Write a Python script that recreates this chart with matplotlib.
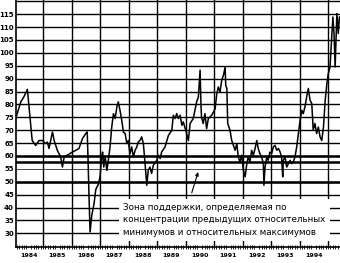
import numpy as np
import matplotlib
matplotlib.use("Agg")
import matplotlib.pyplot as plt
from matplotlib.ticker import MultipleLocator

# price series (decimal year, value)
dates = [
    1984.04, 1984.22, 1984.33, 1984.45, 1984.54, 1984.59, 1984.62, 1984.74, 1984.86, 1984.98,
    1985.09, 1985.15, 1985.21, 1985.33, 1985.39, 1985.50, 1985.62, 1985.68, 1985.74, 1985.85,
    1986.03, 1986.15, 1986.26, 1986.38, 1986.50, 1986.55, 1986.58, 1986.61, 1986.65, 1986.71,
    1986.79, 1986.85, 1986.94, 1987.00, 1987.06, 1987.09, 1987.13, 1987.18, 1987.24, 1987.29,
    1987.35, 1987.41, 1987.47, 1987.53, 1987.59, 1987.64, 1987.70, 1987.76, 1987.82, 1987.88,
    1987.94, 1987.99, 1988.05, 1988.11, 1988.17, 1988.23, 1988.29, 1988.34, 1988.40, 1988.46,
    1988.52, 1988.58, 1988.64, 1988.69, 1988.75, 1988.81, 1988.87, 1988.99, 1989.04, 1989.11,
    1989.16, 1989.28, 1989.40, 1989.52, 1989.57, 1989.63, 1989.69, 1989.75, 1989.81, 1989.87,
    1989.92, 1990.04, 1990.10, 1990.16, 1990.27, 1990.33, 1990.39, 1990.45, 1990.51, 1990.54,
    1990.56, 1990.62, 1990.68, 1990.74, 1990.80, 1990.92, 1990.98, 1991.04, 1991.09, 1991.15,
    1991.21, 1991.27, 1991.33, 1991.39, 1991.41, 1991.45, 1991.48, 1991.56, 1991.62, 1991.68,
    1991.74, 1991.80, 1991.85, 1991.91, 1991.97, 1992.03, 1992.09, 1992.15, 1992.20, 1992.26,
    1992.32, 1992.38, 1992.44, 1992.50, 1992.55, 1992.61, 1992.67, 1992.73, 1992.75, 1992.79,
    1992.85, 1992.90, 1992.96, 1993.02, 1993.08, 1993.14, 1993.20, 1993.26, 1993.32, 1993.37,
    1993.41, 1993.43, 1993.49, 1993.55, 1993.61, 1993.67, 1993.72, 1993.78, 1993.84, 1993.90,
    1993.96, 1994.02, 1994.08, 1994.13, 1994.19, 1994.25, 1994.31, 1994.37, 1994.43, 1994.48,
    1994.54, 1994.60, 1994.66, 1994.72, 1994.78, 1994.84, 1994.90, 1994.96, 1995.01, 1995.07,
    1995.11, 1995.17, 1995.21, 1995.25, 1995.28, 1995.31, 1995.36, 1995.40,
]
prices = [
    74.5, 81.0, 83.0, 85.8, 75.0, 69.3, 66.0, 64.1, 66.0, 66.0,
    64.8, 65.4, 62.9, 69.3, 66.0, 62.2, 59.6, 55.7, 59.6, 60.3,
    61.5, 62.2, 62.9, 66.7, 68.7, 69.3, 58.3, 45.5, 30.5, 37.0,
    41.5, 47.0, 49.0, 52.0, 60.0, 61.5, 55.7, 59.6, 54.4, 58.3,
    63.5, 71.2, 76.4, 74.5, 79.0, 81.0, 77.7, 73.9, 69.3, 68.7,
    64.8, 66.0, 60.9, 63.5, 59.6, 62.2, 63.5, 65.4, 66.0, 67.4,
    64.8, 57.0, 48.6, 54.4, 55.7, 53.2, 56.4, 58.3, 60.3, 59.0,
    61.5, 63.5, 68.0, 70.0, 75.8, 74.5, 76.4, 74.5, 75.8, 71.9,
    73.2, 68.7, 66.0, 72.6, 74.5, 77.7, 81.0, 82.9, 93.3, 80.3,
    75.1, 72.6, 76.4, 70.6, 74.5, 75.8, 77.0, 78.4, 83.6, 86.8,
    84.8, 89.4, 91.3, 94.5, 87.4, 86.2, 72.6, 70.0, 66.0, 64.1,
    62.2, 64.8, 59.6, 57.7, 60.3, 54.4, 51.9, 57.0, 59.6, 57.7,
    62.2, 60.3, 62.9, 66.0, 62.9, 60.9, 59.6, 57.0, 48.6, 55.7,
    59.6, 58.3, 61.5, 60.9, 63.5, 64.1, 62.2, 62.9, 61.5, 59.6,
    51.9, 58.3, 59.6, 55.7, 57.0, 58.3, 57.0, 57.7, 59.6, 63.5,
    68.7, 73.9, 77.7, 76.4, 79.0, 82.9, 86.2, 81.6, 80.3, 70.0,
    72.6, 68.7, 71.2, 67.4, 66.0, 71.2, 81.6, 88.1, 92.0, 94.5,
    102.3, 113.9, 107.5, 94.5, 104.9, 115.3, 107.5, 113.9,
]

years = list(range(1984, 1995))
year_lines = list(range(1985, 1996))
grid_levels = list(range(30, 125, 5))
support_levels = [60, 57.7, 50]
note = ("Зона поддержки, определяемая по\n"
        "концентрации предыдущих относительных\n"
        "минимумов и относительных максимумов")

fig = plt.figure(figsize=(3.4, 2.63), dpi=100)
ax = fig.add_axes([0.047, 0.061, 0.953, 0.939])

for lev in grid_levels:
    lw = 0.5 if lev == 55 else 1.0
    ax.axhline(lev, color="black", lw=lw, zorder=1)
for yr in year_lines:
    ax.axvline(yr, color="black", lw=1.0, zorder=1)
for lev in support_levels:
    ax.axhline(lev, color="black", lw=1.8, zorder=1)

ax.plot(dates, prices, color="black", lw=1.1, zorder=3)

ax.set_xlim(1984.05, 1995.42)
ax.set_ylim(24.7, 120.5)

ax.set_yticks(list(range(30, 120, 5)))
ax.tick_params(axis="y", length=0, labelsize=5, pad=1.5)
for t in ax.get_yticklabels():
    t.set_fontweight("bold")

ax.set_xticks([y + 0.5 for y in years])
ax.set_xticklabels([str(y) for y in years], fontsize=4.5, fontweight="bold")
ax.xaxis.set_minor_locator(MultipleLocator(1 / 12))
ax.tick_params(axis="x", which="major", length=0, pad=4)
ax.tick_params(axis="x", which="minor", length=2.5, direction="inout", width=0.6)

for s in ["top", "right"]:
    ax.spines[s].set_visible(False)
for s in ["left", "bottom"]:
    ax.spines[s].set_linewidth(1.2)

ax.text(1987.82, 35.2, note, fontsize=6.3, va="center", ha="left",
        linespacing=1.45, zorder=4,
        bbox=dict(facecolor="white", edgecolor="none", pad=3))

ax.annotate("", xy=(1990.47, 54.8), xytext=(1990.19, 44.7),
            arrowprops=dict(arrowstyle="-|>", color="black", lw=0.8,
                            mutation_scale=5), zorder=5)

fig.savefig("out.png", dpi=100)
